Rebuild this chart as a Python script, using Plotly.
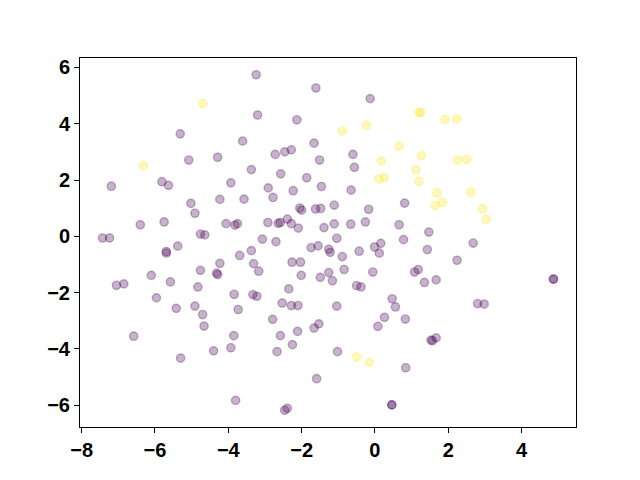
import plotly.graph_objects as go

purple_x = [-5.31, -5.08, -7.19, -5.81, -5.63, -3.24, -1.61, -3.20, -2.13, -3.61, -4.29, -2.72, -2.46, -2.28,
            -1.66, -1.51, -3.37, -2.57, -1.86, -3.93, -2.91, -1.46, -0.13, -0.60, -0.56, -5.02, -4.91, -6.40,
            -5.75, -7.43, -7.24, -4.76, -4.64, -5.38, -5.69, -5.69, -4.76, -6.10, -5.58, -7.05, -6.85, -4.83,
            -5.96, -5.42, -4.91, -2.23, -4.23, -3.57, -2.78, -2.05, -2.00, -1.62, -1.48, -4.06, -3.82, -3.75,
            -2.92, -2.64, -2.58, -2.39, -2.28, -2.09, -3.07, -2.70, -3.37, -3.69, -1.74, -1.55, -4.23, -3.31,
            -4.32, -4.29, -3.17, -2.26, -2.03, -2.01, -1.49, -2.35, -3.84, -3.33, -3.22, -2.53, -2.28, -2.10,
            -3.73, -0.65, 0.81, -1.11, -0.17, -1.11, -0.66, -0.26, 0.66, -1.39, 1.47, -1.04, 0.78, 0.16,
            -0.01, 0.12, 1.43, -1.26, -1.22, -0.43, -0.89, -1.26, -0.84, -0.06, -1.16, 1.08, 1.18, 1.35,
            1.67, -0.50, -0.38, 0.47, -1.04, 0.56, 2.68, 2.24, 4.87, 4.87, 2.80, 2.98, -4.70, -4.66,
            -6.58, -5.30, -2.79, -1.53, -1.66, -3.85, -2.58, -2.11, -4.40, -3.93, -2.67, -2.25, -1.59, -3.80,
            -2.46, -2.39, 0.26, 0.83, 0.08, 1.53, 1.57, 1.67, -1.02, 0.84, 0.46, 0.46]
purple_y = [3.64, 2.71, 1.78, 1.94, 1.81, 5.74, 5.27, 4.31, 4.14, 3.38, 2.81, 2.91, 3.00, 3.07,
            3.31, 2.71, 2.37, 2.22, 2.08, 1.90, 1.72, 1.77, 4.89, 2.91, 2.45, 1.17, 0.82, 0.41,
            0.51, -0.06, -0.06, 0.08, 0.05, -0.35, -0.54, -0.60, -1.21, -1.39, -1.62, -1.74, -1.69, -1.80,
            -2.19, -2.56, -2.48, 1.62, 1.31, 1.32, 1.38, 1.00, 0.93, 0.97, 0.99, 0.45, 0.40, 0.45,
            0.49, 0.46, 0.49, 0.61, 0.45, 0.29, -0.10, -0.19, -0.51, -0.68, -0.40, -0.34, -0.96, -0.97,
            -1.31, -1.36, -1.24, -0.92, -0.92, -1.39, -1.46, -1.87, -2.06, -2.07, -2.13, -2.37, -2.46, -2.46,
            -2.60, 1.64, 1.18, 1.11, 0.96, 0.44, 0.43, 0.51, 0.41, 0.31, 0.15, -0.07, -0.12, -0.25,
            -0.38, -0.60, -0.47, -0.46, -0.57, -0.53, -0.72, -1.29, -1.18, -1.27, -1.58, -1.27, -1.18, -1.64,
            -1.55, -1.75, -1.80, -2.22, -2.48, -2.51, -0.24, -0.85, -1.52, -1.52, -2.39, -2.41, -2.78, -3.19,
            -3.55, -4.33, -2.95, -3.11, -3.26, -3.53, -3.53, -3.38, -4.07, -3.96, -4.10, -3.85, -5.06, -5.83,
            -6.18, -6.11, -2.88, -2.94, -3.20, -3.69, -3.71, -3.61, -4.10, -4.67, -5.99, -5.99]

yellow_x = [-4.70, -6.31, 1.20, 1.25, 1.91, -0.89, -0.23, 0.66, 1.27, 0.17, 1.12, 0.11, 0.25, 1.20,
            2.23, 2.25, 2.50, 1.69, 1.65, 1.84, 2.62, 2.93, 3.04, -0.50, -0.15]
yellow_y = [4.72, 2.51, 4.40, 4.40, 4.16, 3.75, 3.94, 3.20, 2.87, 2.67, 2.35, 2.03, 2.09, 1.95,
            4.17, 2.71, 2.73, 1.54, 1.09, 1.21, 1.57, 0.98, 0.60, -4.29, -4.48]

x_ticks = [-8, -6, -4, -2, 0, 2, 4]
y_ticks = [-6, -4, -2, 0, 2, 4, 6]

PURPLE = "rgba(68,1,84,0.3)"
YELLOW = "rgba(253,231,37,0.3)"

xs = purple_x + yellow_x
ys = purple_y + yellow_y
cols = [PURPLE] * len(purple_x) + [YELLOW] * len(yellow_x)

fig = go.Figure(go.Scatter(
    x=xs, y=ys, mode="markers",
    marker=dict(size=8.3, color=cols, line=dict(color=cols, width=1.4)),
    hoverinfo="skip", showlegend=False,
))

def pad(lo, hi):
    m = (hi - lo) * 0.05
    return [lo - m, hi + m]

axis_common = dict(showgrid=False, zeroline=False, showline=True, mirror=True,
                   linecolor="black", linewidth=1, ticks="outside", ticklen=5,
                   tickwidth=1, tickcolor="black",
                   tickfont=dict(family="Liberation Sans, Arial, sans-serif", size=20,
                                 color="black", weight="bold"))
fig.update_xaxes(range=pad(min(xs), max(xs)), tickvals=x_ticks, **axis_common)
fig.update_yaxes(range=pad(min(ys), max(ys)), tickvals=y_ticks, **axis_common)

# page body has an 8px default margin, so the figure is sized to fill the rest
fig.update_layout(width=632, height=472, plot_bgcolor="white", paper_bgcolor="white",
                  margin=dict(l=72, r=64, t=50, b=53, autoexpand=False))
fig.write_html("out.html")
